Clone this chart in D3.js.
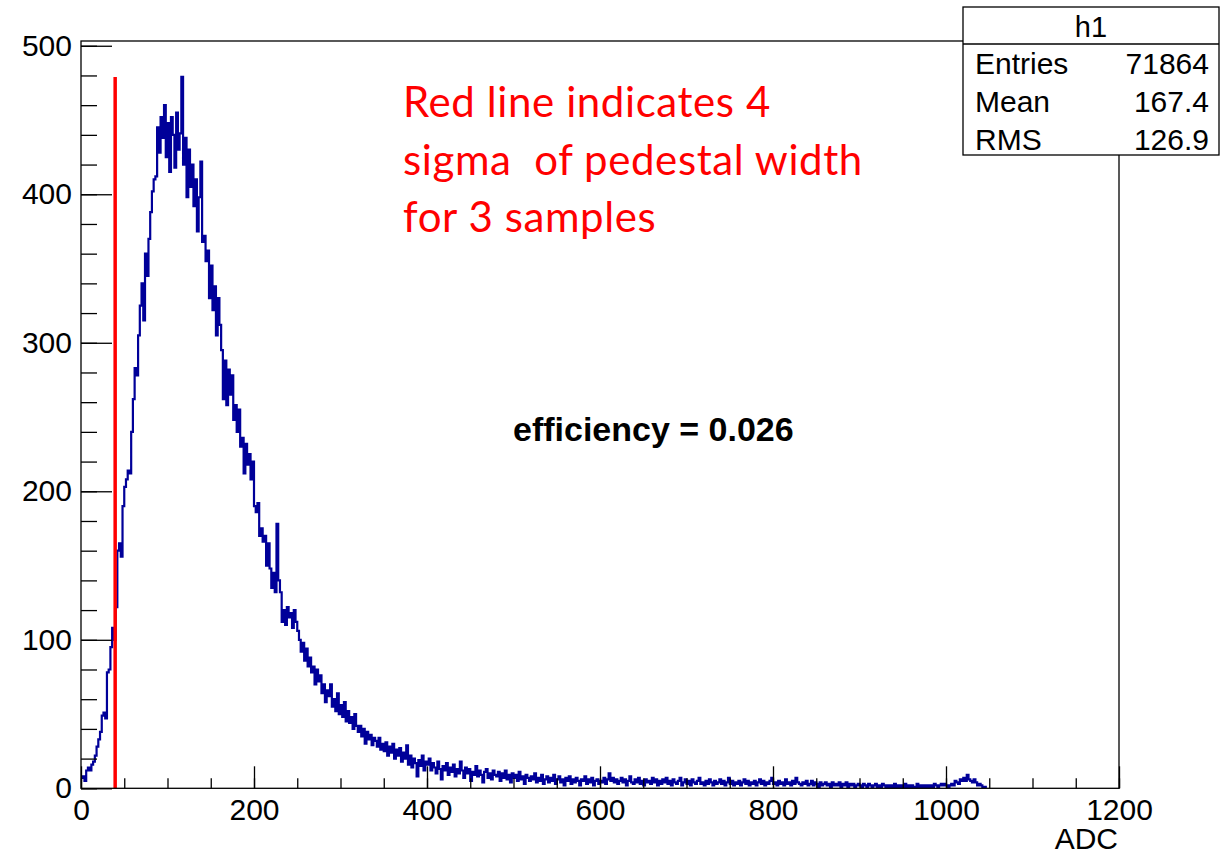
<!DOCTYPE html>
<html>
<head>
<meta charset="utf-8">
<script src="https://cdn.jsdelivr.net/npm/d3@7"></script>
<style>
  body { margin: 0; background: #fff; }
  text { font-family: "Liberation Sans", Arial, Helvetica, sans-serif; }
</style>
</head>
<body>
<div id="chart"></div>
<script>
// histogram h1, 2 ADC per bin starting at 0
const xMin = 0;
const binWidth = 2;
const countsA = [ // 0 - 200
  7, 8, 5, 12, 14, 12, 16, 18, 22, 28,
  33, 38, 49, 51, 47, 78, 80, 95, 108, 100,
  122, 160, 165, 156, 190, 203, 208, 214, 212, 240,
  262, 283, 278, 305, 325, 340, 315, 360, 345, 370,
  388, 402, 410, 412, 445, 428, 452, 438, 460, 425,
  448, 415, 452, 440, 418, 455, 430, 441, 479, 420,
  438, 398, 430, 405, 420, 392, 410, 375, 398, 422,
  368, 372, 355, 362, 330, 352, 322, 338, 305, 330,
  312, 295, 262, 288, 258, 282, 265, 278, 248, 258,
  240, 255, 230, 236, 212, 232, 218, 225, 208, 220
];
const countsB = [ // 200 - 400
  190, 186, 192, 170, 175, 166, 170, 150, 165, 148,
  135, 145, 132, 178, 140, 132, 112, 120, 110, 122,
  115, 118, 108, 120, 112, 106, 100, 92, 98, 86,
  94, 82, 88, 78, 82, 70, 80, 72, 76, 64,
  70, 58, 66, 62, 70, 55, 60, 52, 64, 50,
  56, 48, 58, 45, 52, 44, 48, 40, 50, 42,
  38, 42, 35, 40, 30, 38, 33, 36, 29, 34,
  32, 28, 34, 26, 30, 25, 31, 22, 28, 24,
  30, 20, 26, 22, 27, 18, 24, 20, 29, 16,
  22, 14, 20, 17, 8, 19, 15, 22, 12, 18
];
const countsC = [ // 400 - 700
  16, 20, 12, 17, 14, 10, 18, 13, 6, 15,
  12, 17, 9, 14, 11, 16, 8, 13, 10, 18,
  12, 7, 14, 10, 13, 5, 11, 9, 15, 8,
  12, 9, 4, 11, 13, 7, 10, 6, 12, 9,
  8, 11, 5, 10, 7, 12, 6, 9, 4, 10,
  7, 9, 5, 11, 6, 8, 3, 9, 7, 5,
  8, 6, 10, 4, 7, 5, 9, 3, 6, 8,
  4, 7, 5, 9, 3, 6, 8, 4, 6, 2,
  7, 5, 8, 3, 6, 4, 7, 5, 2, 6,
  5, 8, 3, 6, 4, 7, 2, 5, 6, 3,
  5, 4, 7, 3, 6, 10, 5, 7, 4, 6,
  3, 5, 7, 4, 6, 2, 5, 8, 4, 3,
  6, 4, 7, 3, 5, 2, 6, 4, 5, 3,
  7, 4, 6, 2, 5, 3, 6, 4, 7, 3,
  5, 2, 6, 4, 3, 5, 7, 2, 4, 6
];
const countsD = [ // 700 - 1046
  3, 5, 2, 6, 4, 3, 5, 7, 3, 4,
  2, 5, 3, 6, 4, 2, 5, 3, 4, 6,
  3, 5, 2, 4, 7, 3, 5, 2, 4, 3,
  5, 2, 4, 6, 3, 5, 2, 4, 3, 5,
  2, 4, 6, 3, 5, 2, 4, 3, 5, 7,
  3, 4, 2, 5, 3, 4, 2, 6, 3, 4,
  2, 5, 3, 7, 4, 3, 2, 4, 3, 5,
  2, 3, 5, 2, 4, 3, 1, 4, 2, 3,
  4, 2, 3, 1, 4, 2, 3, 2, 4, 1,
  3, 2, 4, 1, 3, 2, 3, 1, 2, 3,
  2, 1, 3, 2, 1, 3, 2, 1, 2, 3,
  1, 2, 1, 3, 2, 1, 2, 1, 2, 1,
  3, 1, 2, 1, 2, 1, 3, 1, 2, 1,
  2, 1, 1, 3, 1, 2, 1, 2, 1, 2,
  1, 2, 1, 3, 2, 1, 2, 3, 2, 3,
  2, 1, 2, 3, 2, 5, 4, 3, 6, 5,
  7, 5, 9, 6, 5, 4, 6, 4, 2, 3,
  2, 1, 1
];

const statsLabels = ["Entries", "Mean", "RMS"];
const statsValues = ["71864", "167.4", "126.9"];
const noteLines = ["Red line indicates 4", "sigma  of pedestal width", "for 3 samples"];
const cutAdc = 39.5;   // 4 sigma pedestal cut
const cutTop = 479;

const W = 1224, H = 856;
const margin = { top: 41, right: 105, bottom: 68, left: 81 };

const svg = d3.select("#chart").append("svg")
  .attr("width", W)
  .attr("height", H)
  .style("background", "#fff");

const x = d3.scaleLinear().domain([0, 1200]).range([margin.left, W - margin.right]);
const y = d3.scaleLinear().domain([0, 503.2]).range([H - margin.bottom + 0.3, margin.top]);

const counts = [...countsA, ...countsB, ...countsC, ...countsD];
const pts = counts.map((c, i) => [xMin + i * binWidth, c]);
const xEnd = xMin + counts.length * binWidth;
pts.push([xEnd, counts[counts.length - 1]]);
pts.push([xEnd, 0]);

svg.append("clipPath").attr("id", "frame")
  .append("rect")
  .attr("x", x(0)).attr("y", y.range()[1])
  .attr("width", x(1200) - x(0)).attr("height", y(0) - y.range()[1]);

const line = d3.line()
  .x(d => x(d[0]))
  .y(d => y(d[1]))
  .curve(d3.curveStepAfter);

svg.append("path")
  .datum(pts)
  .attr("clip-path", "url(#frame)")
  .attr("fill", "none")
  .attr("stroke", "#000099")
  .attr("stroke-width", 2.2)
  .attr("stroke-linejoin", "miter")
  .attr("d", line);

// red cut line
svg.append("line")
  .attr("x1", x(cutAdc)).attr("x2", x(cutAdc))
  .attr("y1", y(0)).attr("y2", y(cutTop))
  .attr("stroke", "#ff0000")
  .attr("stroke-width", 3.5);

// frame
svg.append("rect")
  .attr("x", x(0)).attr("y", y.range()[1])
  .attr("width", x(1200) - x(0)).attr("height", y(0) - y.range()[1])
  .attr("fill", "none")
  .attr("stroke", "#000")
  .attr("stroke-width", 1.3);

// x axis: major + minor ticks pointing inward
const xMinor = svg.append("g")
  .attr("transform", `translate(0,${y(0)})`)
  .call(d3.axisBottom(x).tickValues(d3.range(0, 1201, 50)).tickSize(-10).tickFormat(""));
const xMajor = svg.append("g")
  .attr("transform", `translate(0,${y(0)})`)
  .call(d3.axisBottom(x).tickValues(d3.range(0, 1201, 200)).tickSize(-22).tickPadding(10)
    .tickFormat(d3.format("d")));

const yMinor = svg.append("g")
  .attr("transform", `translate(${x(0)},0)`)
  .call(d3.axisLeft(y).tickValues(d3.range(0, 501, 20)).tickSize(-16).tickFormat(""));
const yMajor = svg.append("g")
  .attr("transform", `translate(${x(0)},0)`)
  .call(d3.axisLeft(y).tickValues(d3.range(0, 501, 100)).tickSize(-31).tickPadding(9)
    .tickFormat(d3.format("d")));

[xMinor, xMajor, yMinor, yMajor].forEach(g => {
  g.select(".domain").remove();
  g.selectAll(".tick line").attr("stroke", "#000").attr("stroke-width", 1.3);
  g.selectAll("text")
    .attr("fill", "#000")
    .style("font-size", "30px")
    .style("font-family", '"Liberation Sans", Arial, sans-serif');
});

svg.append("text")
  .attr("x", 1118).attr("y", 849)
  .attr("text-anchor", "end")
  .style("font-size", "30px")
  .text("ADC");

// stats box
const box = svg.append("g");
box.append("rect")
  .attr("x", 963).attr("y", 7).attr("width", 256).attr("height", 148)
  .attr("fill", "#fff").attr("stroke", "#000").attr("stroke-width", 1.3);
box.append("line")
  .attr("x1", 963).attr("x2", 1219).attr("y1", 44).attr("y2", 44)
  .attr("stroke", "#000").attr("stroke-width", 1.3);
box.append("text")
  .attr("x", 1091).attr("y", 37)
  .attr("text-anchor", "middle")
  .style("font-size", "29px")
  .text("h1");
statsLabels.forEach((lab, i) => {
  const yy = 74 + i * 38;
  box.append("text").attr("x", 975).attr("y", yy).style("font-size", "30px").text(lab);
  box.append("text").attr("x", 1209).attr("y", yy).attr("text-anchor", "end")
    .style("font-size", "30px").text(statsValues[i]);
});

// annotation
const note = svg.append("text")
  .attr("fill", "#ff0000")
  .style("font-family", "Lato, 'Open Sans', sans-serif")
  .style("font-size", "42px")
  .style("letter-spacing", "0.6px")
  .attr("xml:space", "preserve");
noteLines.forEach((t, i) => {
  note.append("tspan").attr("x", 403).attr("y", 117 + i * 57.5).text(t);
});

svg.append("text")
  .attr("x", 513).attr("y", 441)
  .style("font-size", "34px")
  .style("font-weight", "bold")
  .text("efficiency = 0.026");
</script>
</body>
</html>
